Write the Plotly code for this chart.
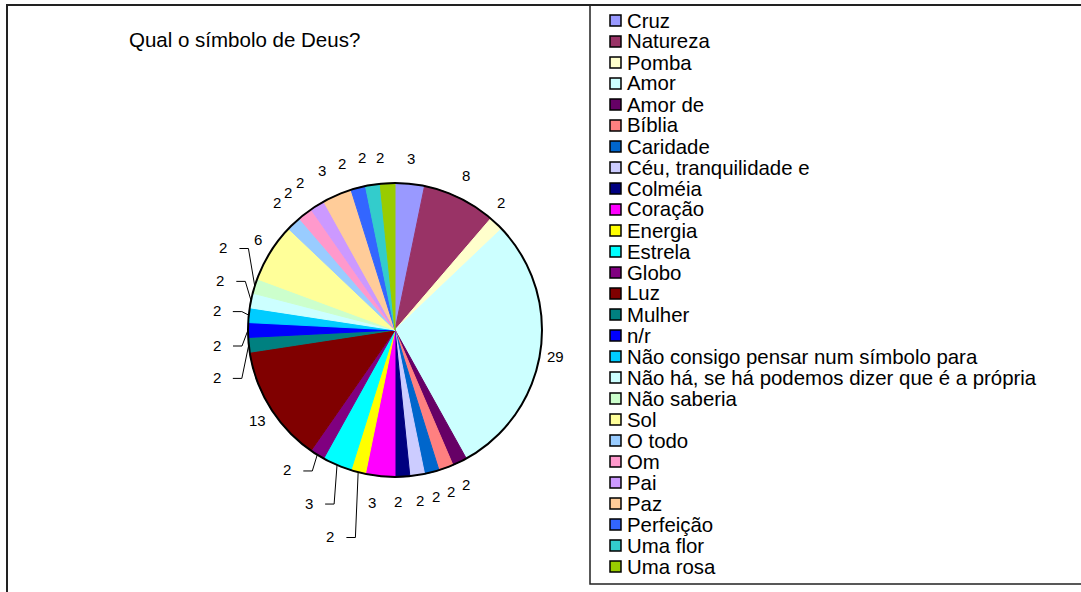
import math
import plotly.graph_objects as go

# Survey answers: "Qual o símbolo de Deus?" (number of respondents per answer)
categories = [
    "Cruz", "Natureza", "Pomba", "Amor", "Amor de", "Bíblia", "Caridade",
    "Céu, tranquilidade e", "Colméia", "Coração", "Energia", "Estrela",
    "Globo", "Luz", "Mulher", "n/r", "Não consigo pensar num símbolo para",
    "Não há, se há podemos dizer que é a própria", "Não saberia", "Sol",
    "O todo", "Om", "Pai", "Paz", "Perfeição", "Uma flor", "Uma rosa",
]
counts = [2, 5, 1, 18, 1, 1, 1, 1, 1, 2, 1, 2, 1, 8, 1, 1, 1, 1, 1, 4,
          1, 1, 1, 2, 1, 1, 1]
colors = [
    "#9999FF", "#993366", "#FFFFCC", "#CCFFFF", "#660066", "#FF8080",
    "#0066CC", "#CCCCFF", "#000080", "#FF00FF", "#FFFF00", "#00FFFF",
    "#800080", "#800000", "#008080", "#0000FF", "#00CCFF", "#CCFFFF",
    "#CCFFCC", "#FFFF99", "#99CCFF", "#FF99CC", "#CC99FF", "#FFCC99",
    "#3366FF", "#33CCCC", "#99CC00",
]
title_text = "Qual o símbolo de Deus?"

W, H = 1081, 592
FONT = "Liberation Sans, Arial, sans-serif"

# pie placement (pixels, y measured from the top)
cx, cy, r = 395, 330, 147
dom_x = [(cx - r) / W, (cx + r) / W]
dom_y = [(H - cy - r) / H, (H - cy + r) / H]


def px(x):
    return x / W


def py(y):
    return 1 - y / H


fig = go.Figure(go.Pie(
    labels=categories,
    values=counts,
    sort=False,
    direction="clockwise",
    rotation=0,
    marker=dict(colors=colors, line=dict(color=colors, width=1)),
    textinfo="none",
    showlegend=False,
    domain=dict(x=dom_x, y=dom_y),
    hovertemplate="%{label}: %{value} (%{percent})<extra></extra>",
))

shapes = []
annotations = []

# black rim around the pie
shapes.append(dict(type="circle", xref="paper", yref="paper",
                   x0=dom_x[0], x1=dom_x[1], y0=dom_y[0], y1=dom_y[1],
                   line=dict(color="black", width=2)))

# chart frame and legend frame
shapes.append(dict(type="rect", xref="paper", yref="paper",
                   x0=px(7), x1=1.01, y0=-0.01, y1=py(5),
                   line=dict(color="#222", width=2)))
shapes.append(dict(type="rect", xref="paper", yref="paper",
                   x0=px(590), x1=1.01, y0=py(584), y1=py(5),
                   line=dict(color="#222", width=1.5), fillcolor="white",
                   layer="below"))

# percentage labels placed around the rim; crowded ones are pulled aside
# and tied back to their slice with a leader line
label_rx, label_ry = 162, 172
nudge = {
    "Pomba": (-6, -3), "Colméia": (-5, 0), "Coração": (-7, 1),
    "Energia": (-24, 40), "Estrela": (-22, 15), "Globo": (-22, -6),
    "Mulher": (-17, 30), "n/r": (-16, 15), "Não consigo pensar num símbolo para": (-17, -2),
    "Não há, se há podemos dizer que é a própria": (-16, -15),
    "Não saberia": (-17, -31),
    "O todo": (-6, -3), "Om": (-8, -1), "Pai": (-9, -2), "Paz": (-9, -1),
    "Perfeição": (-12, 0), "Uma flor": (-8, -2), "Uma rosa": (-7, -1),
}
leader = {"Energia", "Estrela", "Globo", "Mulher", "n/r",
          "Não consigo pensar num símbolo para",
          "Não há, se há podemos dizer que é a própria", "Não saberia"}

total = sum(counts)
cum = 0
for name, v in zip(categories, counts):
    mid = math.radians((cum + v / 2) / total * 360)
    cum += v
    s, c = math.sin(mid), math.cos(mid)
    dx, dy = nudge.get(name, (0, 0))
    lx = cx + label_rx * s + dx
    ly = cy - label_ry * c + dy
    pct = round(v / total * 100)
    annotations.append(dict(text=str(pct), xref="paper", yref="paper",
                            x=px(lx), y=py(ly), xanchor="center",
                            yanchor="middle", showarrow=False,
                            font=dict(family=FONT, size=15, color="black")))
    if name in leader:
        ex, ey = cx + r * s, cy - r * c
        path = (f"M {px(lx + 16)},{py(ly + 1)} L {px(lx + 25)},{py(ly + 1)} "
                f"L {px(ex)},{py(ey)}")
        shapes.append(dict(type="path", xref="paper", yref="paper", path=path,
                           line=dict(color="black", width=1)))

# legend entries
row0, pitch = 20.5, 21.0
for i, (name, col) in enumerate(zip(categories, colors)):
    yc = row0 + i * pitch
    shapes.append(dict(type="rect", xref="paper", yref="paper",
                       x0=px(610), x1=px(621),
                       y0=py(yc + 5.5), y1=py(yc - 5.5),
                       fillcolor=col, line=dict(color="black", width=1.5)))
    annotations.append(dict(text=name, xref="paper", yref="paper",
                            x=px(625), y=py(yc), xanchor="left",
                            yanchor="middle", showarrow=False,
                            font=dict(family=FONT, size=20.4, color="black")))

annotations.append(dict(text=title_text, xref="paper", yref="paper",
                        x=px(127), y=py(40), xanchor="left",
                        yanchor="middle", showarrow=False,
                        font=dict(family=FONT, size=20.5, color="black")))

fig.update_layout(
    width=W, height=H,
    margin=dict(l=0, r=0, t=0, b=0),
    paper_bgcolor="white",
    plot_bgcolor="white",
    shapes=shapes,
    annotations=annotations,
)

fig.write_html("out.html")
